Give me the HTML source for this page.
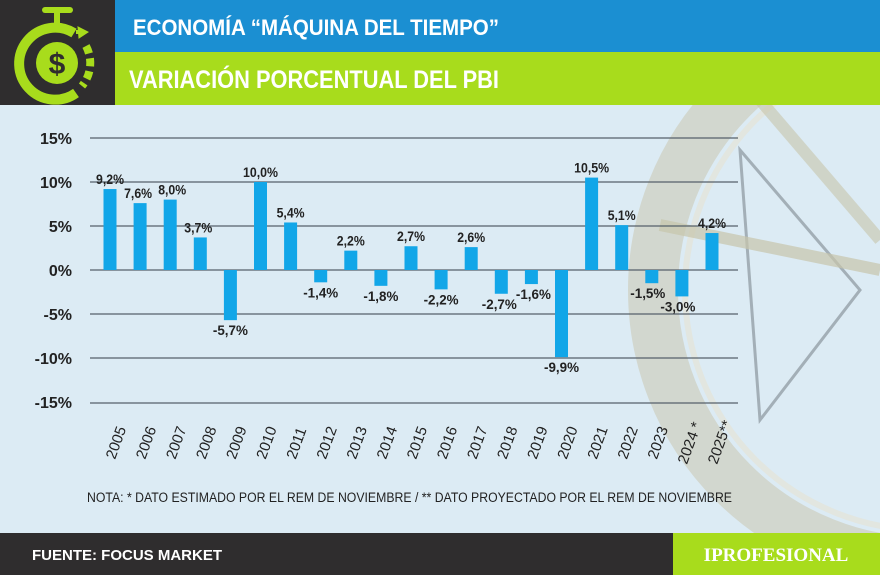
<!DOCTYPE html>
<html><head><meta charset="utf-8"><style>
body{margin:0;width:880px;height:575px;overflow:hidden;background:#dcebf4;font-family:"Liberation Sans",sans-serif}
</style></head><body>
<svg width="880" height="575" xmlns="http://www.w3.org/2000/svg" style="position:absolute;left:0;top:0">
<rect width="880" height="575" fill="#dcebf4"/>
<circle cx="925" cy="290" r="272" fill="none" stroke="#cbc9b6" stroke-width="50" opacity="0.6"/>
<circle cx="925" cy="290" r="240" fill="none" stroke="#e6e3d2" stroke-width="6" opacity="0.6"/>
<path d="M740 150 L860 290 L760 420 Z" fill="none" stroke="#8a969c" stroke-width="3" opacity="0.7"/>
<line x1="660" y1="225" x2="880" y2="270" stroke="#c8c6ac" stroke-width="12" opacity="0.7"/>
<line x1="760" y1="100" x2="880" y2="240" stroke="#c8c6ac" stroke-width="12" opacity="0.6"/>
<rect x="0" y="0" width="115" height="105" fill="#2f2d2e"/>
<rect x="115" y="0" width="765" height="52" fill="#1b8fd2"/>
<rect x="115" y="52" width="765" height="53" fill="#a8dc1c"/>
<g fill="none" stroke="#a8dc1c">
<path d="M74 33 A36 36 0 1 0 76 93" stroke-width="10"/>
<path d="M76 32 L84 32" stroke-width="4"/>
<path d="M79 38 L88 32 L78 27 Z" fill="#a8dc1c" stroke-width="1"/>
<path d="M86 46 A36 36 0 0 1 82 86" stroke-width="8" stroke-dasharray="8 5"/>
<line x1="45" y1="10" x2="70" y2="10" stroke-width="6" stroke-linecap="round"/>
<line x1="57" y1="12" x2="57" y2="24" stroke-width="6"/>
</g>
<circle cx="57" cy="63" r="21" fill="#a8dc1c"/>
<text x="57" y="74" font-size="30" font-weight="bold" text-anchor="middle" fill="#2f2d2e">$</text>
<text x="133" y="35" font-size="22" font-weight="bold" fill="#fff" textLength="366" lengthAdjust="spacingAndGlyphs">ECONOMÍA “MÁQUINA DEL TIEMPO”</text>
<text x="129" y="88" font-size="25" font-weight="bold" fill="#fff" textLength="370" lengthAdjust="spacingAndGlyphs">VARIACIÓN PORCENTUAL DEL PBI</text>
<g stroke="#55606a" stroke-width="1.3">
<line x1="90" x2="738" y1="138" y2="138"/><line x1="90" x2="738" y1="182" y2="182"/>
<line x1="90" x2="738" y1="226" y2="226"/><line x1="90" x2="738" y1="270" y2="270"/>
<line x1="90" x2="738" y1="314" y2="314"/><line x1="90" x2="738" y1="358" y2="358"/>
<line x1="90" x2="738" y1="403" y2="403"/>
</g>
<g font-size="16" font-weight="bold" fill="#222" text-anchor="end">
<text x="72" y="144">15%</text><text x="72" y="188">10%</text><text x="72" y="232">5%</text>
<text x="72" y="276">0%</text><text x="72" y="320">-5%</text><text x="72" y="364">-10%</text><text x="72" y="408">-15%</text>
</g>
<g id="bars" fill="#12a6e8"></g>
<g id="lbl" font-size="14" fill="#222" text-anchor="middle" font-weight="bold"></g>
<g id="yrs" font-size="15" fill="#222"></g>
<text x="87" y="502" font-size="13.5" fill="#222" textLength="645" lengthAdjust="spacingAndGlyphs">NOTA: * DATO ESTIMADO POR EL REM DE NOVIEMBRE  /  ** DATO PROYECTADO POR EL REM DE NOVIEMBRE</text>
<rect x="0" y="533" width="880" height="42" fill="#2f2d2e"/>
<rect x="673" y="533" width="207" height="42" fill="#a8dc1c"/>
<text x="32" y="560" font-size="15" font-weight="bold" fill="#fff">FUENTE: FOCUS MARKET</text>
<text x="776" y="561" font-size="19" font-family="Liberation Serif,serif" font-weight="bold" fill="#fff" text-anchor="middle">IPROFESIONAL</text>
</svg>
<script>
const v=[9.2,7.6,8.0,3.7,-5.7,10.0,5.4,-1.4,2.2,-1.8,2.7,-2.2,2.6,-2.7,-1.6,-9.9,10.5,5.1,-1.5,-3.0,4.2];
const dx=[0,-2,2,-2,0,0,0,0,0,0,0,0,0,-2,2,0,0,0,-4,-4,0];
const ns="http://www.w3.org/2000/svg";
const B=document.getElementById('bars'),L=document.getElementById('lbl'),Y=document.getElementById('yrs');
v.forEach((d,i)=>{const cx=110+i*30.1,h=Math.abs(d)*8.8,y=d>0?270-h:270;
const r=document.createElementNS(ns,'rect');r.setAttribute('x',cx-6.5);r.setAttribute('y',y);r.setAttribute('width',13);r.setAttribute('height',h);B.appendChild(r);
const t=document.createElementNS(ns,'text');const s0=d.toFixed(1).replace('.',',')+'%';
t.setAttribute('x',cx+dx[i]);t.setAttribute('y',d>0?y-5:y+h+15);t.textContent=s0;
t.setAttribute('textLength',s0.length*7);t.setAttribute('lengthAdjust','spacingAndGlyphs');L.appendChild(t);
const yr=document.createElementNS(ns,'text');let s=String(2005+i);if(i==19)s+=' *';if(i==20)s+='**';
yr.setAttribute('transform',`translate(${cx+5},${i>=19?465:460}) rotate(-70)`);yr.textContent=s;Y.appendChild(yr);});
</script>
</body></html>
